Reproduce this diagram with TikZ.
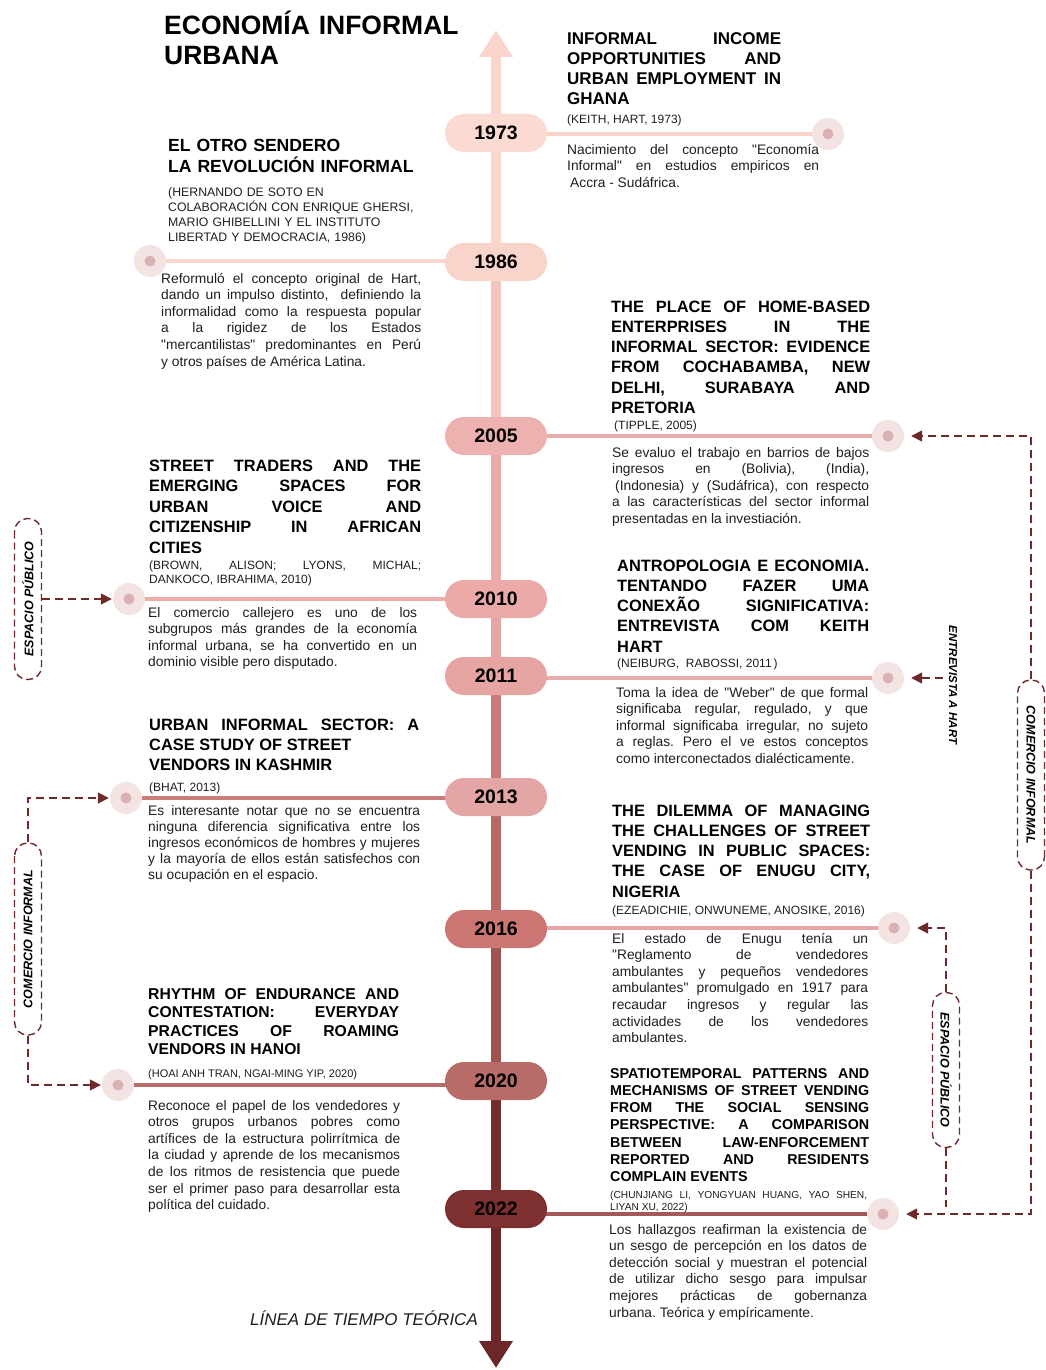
\documentclass[tikz,border=0pt]{standalone}
\usepackage{fontspec}
\setmainfont{Liberation Sans}
\usetikzlibrary{arrows.meta,backgrounds}

\hyphenpenalty=10000
\exhyphenpenalty=10000
\tolerance=10000
\frenchspacing

% colours of the pills, of the spine and of the connectors
\definecolor{yr73}{HTML}{FBDAD1}
\definecolor{yr86}{HTML}{F9D4CA}
\definecolor{yr05}{HTML}{EDB1AF}
\definecolor{yr10}{HTML}{EBAAA8}
\definecolor{yr11}{HTML}{E6A4A3}
\definecolor{yr13}{HTML}{E4A6A4}
\definecolor{yr16}{HTML}{CB7673}
\definecolor{yr20}{HTML}{B76C68}
\definecolor{yr22}{HTML}{7E3030}
\definecolor{spA}{HTML}{F9D5CC}
\definecolor{spB}{HTML}{F3C4BE}
\definecolor{spC}{HTML}{E9ABAA}
\definecolor{spD}{HTML}{E6A6A5}
\definecolor{spE}{HTML}{C97C79}
\definecolor{spF}{HTML}{B66965}
\definecolor{spG}{HTML}{9D5350}
\definecolor{spH}{HTML}{722D2D}
\definecolor{spI}{HTML}{6C2828}
\definecolor{ln73}{HTML}{F9D3CA}
\definecolor{ln86}{HTML}{FAD7CE}
\definecolor{ln05}{HTML}{E8ABAB}
\definecolor{ln10}{HTML}{EDACAA}
\definecolor{ln11}{HTML}{E8ABAB}
\definecolor{ln13}{HTML}{CD7D79}
\definecolor{ln16}{HTML}{E9A6A5}
\definecolor{ln20}{HTML}{B96C69}
\definecolor{ln22}{HTML}{A45858}
\definecolor{maroon}{HTML}{6E2A2A}
\definecolor{dotout}{HTML}{F4E3E3}
\definecolor{dotin}{HTML}{D9B1B2}
\definecolor{ink}{HTML}{1E1E1E}

\tikzset{
    year/.style={
           rectangle,
           rounded corners=19pt,
           minimum width=102pt,
           minimum height=38pt,
           inner sep=2pt,
           text centered,
           font=\bfseries\fontsize{19.5}{22}\selectfont,
           text=black,
           },
    spine/.style={line width=10pt},
    conn/.style={line width=4pt},
    dot/.style={
           circle,
           fill=dotout,
           minimum size=32pt,
           inner sep=0pt,
           path picture={\fill[dotin] (path picture bounding box.center) circle (5.5pt);},
           },
    txt/.style={anchor=base west, inner sep=0pt, align=justify, text=ink},
    head/.style={txt, text=black, font=\bfseries\fontsize{16.4}{20.3}\selectfont},
    cite/.style={txt, font=\fontsize{12}{14.5}\selectfont},
    body/.style={txt, font=\fontsize{13.8}{16.6}\selectfont},
    tag/.style={
           draw=maroon,
           line width=1.4pt,
           dash pattern=on 7pt off 4pt,
           rounded corners=13pt,
           minimum height=27pt,
           inner sep=0pt,
           text=black,
           font=\bfseries\itshape\fontsize{12.5}{14}\selectfont,
           },
    link/.style={
           draw=maroon,
           line width=1.6pt,
           dash pattern=on 8pt off 5pt,
           -{Triangle[length=11pt,width=11pt]},
           shorten >=7pt,
           },
}

\begin{document}
\begin{tikzpicture}[x=1pt,y=-1pt]
    \useasboundingbox (0,0) rectangle (1046,1370);

    % title
    \node[anchor=base west, inner sep=0pt, align=left, text width=320pt,
    font=\bfseries\fontsize{26.5}{30}\selectfont] (title) at (164,35)
    {ECONOMÍA INFORMAL\\URBANA};

    % ends of the time line
    \coordinate (tiptop) at (496,30);
    \coordinate (tipbot) at (496,1368);

    % years on the time line (layout defined above)
    \node[year, fill=yr73] (y1973) at (496,133) {1973};
    \node[year, fill=yr86] (y1986) at (496,262) {1986};
    \node[year, fill=yr05] (y2005) at (496,436) {2005};
    \node[year, fill=yr10] (y2010) at (496,599) {2010};
    \node[year, fill=yr11] (y2011) at (496,676) {2011};
    \node[year, fill=yr13] (y2013) at (496,797) {2013};
    \node[year, fill=yr16] (y2016) at (496,929) {2016};
    \node[year, fill=yr20] (y2020) at (496,1081) {2020};
    \node[year, fill=yr22] (y2022) at (496,1209) {2022};

    % dots at the free end of each connector
    \node[dot] (d1973) at (828,134) {};
    \node[dot] (d1986) at (150,261) {};
    \node[dot] (d2005) at (888,436) {};
    \node[dot] (d2010) at (129,599) {};
    \node[dot] (d2011) at (888,678) {};
    \node[dot] (d2013) at (126,798) {};
    \node[dot] (d2016) at (894,928) {};
    \node[dot] (d2020) at (118,1085) {};
    \node[dot] (d2022) at (883,1214) {};

    % spine and connectors behind the pills
    \begin{pgfonlayer}{background}
        \draw[spine, spA, -{Triangle[width=32pt,length=27pt]}] (y1973) -- (tiptop);
        \draw[spine, spA] (y1973) -- (y1986);
        \draw[spine, spB] (y1986) -- (y2005);
        \draw[spine, spC] (y2005) -- (y2010);
        \draw[spine, spD] (y2010) -- (y2011);
        \draw[spine, spE] (y2011) -- (y2013);
        \draw[spine, spF] (y2013) -- (y2016);
        \draw[spine, spG] (y2016) -- (y2020);
        \draw[spine, spH] (y2020) -- (y2022);
        \draw[spine, spI, -{Triangle[width=32pt,length=27pt]}] (y2022) -- (tipbot);

        \draw[conn, ln73] (y1973 |- d1973) -- (d1973);
        \draw[conn, ln86] (y1986 |- d1986) -- (d1986);
        \draw[conn, ln05] (y2005 |- d2005) -- (d2005);
        \draw[conn, ln10] (y2010 |- d2010) -- (d2010);
        \draw[conn, ln11] (y2011 |- d2011) -- (d2011);
        \draw[conn, ln13] (y2013 |- d2013) -- (d2013);
        \draw[conn, ln16] (y2016 |- d2016) -- (d2016);
        \draw[conn, ln20] (y2020 |- d2020) -- (d2020);
        \draw[conn, ln22] (y2022 |- d2022) -- (d2022);
    \end{pgfonlayer}

    % 1973
    \node[head, text width=214pt, font=\bfseries\fontsize{17}{20}\selectfont] (t1973) at (567,45)
    {INFORMAL INCOME\linebreak OPPORTUNITIES AND\linebreak URBAN EMPLOYMENT IN\linebreak GHANA};
    \node[cite] (c1973) at (567,124) {(KEITH, HART, 1973)};
    \node[body, text width=252pt] (b1973) at (567,154)
    {Nacimiento del concepto \textquotedbl Economía\linebreak Informal\textquotedbl{} en estudios empiricos en\linebreak\hspace*{3pt}Accra - Sudáfrica.};

    % 1986
    \node[head, align=left, text width=270pt, font=\bfseries\fontsize{17.6}{21}\selectfont] (t1986) at (168,151)
    {EL OTRO SENDERO\\LA REVOLUCIÓN INFORMAL};
    \node[cite, align=left, text width=270pt, font=\fontsize{12.3}{15}\selectfont] (c1986) at (168,196)
    {(HERNANDO DE SOTO EN\\COLABORACIÓN CON ENRIQUE GHERSI,\\MARIO GHIBELLINI Y EL INSTITUTO\\LIBERTAD Y DEMOCRACIA, 1986)};
    \node[body, text width=260pt] (b1986) at (161,283)
    {Reformuló el concepto original de Hart,\linebreak dando un impulso distinto,\ \ definiendo la\linebreak informalidad como la respuesta popular\linebreak a la rigidez de los Estados\linebreak \textquotedbl mercantilistas\textquotedbl{} predominantes en Perú\linebreak y otros países de América Latina.};

    % 2005
    \node[head, text width=259pt] (t2005) at (611,312)
    {THE PLACE OF HOME-BASED\linebreak ENTERPRISES IN THE\linebreak INFORMAL SECTOR: EVIDENCE\linebreak FROM COCHABAMBA, NEW\linebreak DELHI, SURABAYA AND\linebreak PRETORIA};
    \node[cite] (c2005) at (614,429) {(TIPPLE, 2005)};
    \node[body, text width=257pt] (b2005) at (612,457)
    {Se evaluo el trabajo en barrios de bajos\linebreak ingresos en (Bolivia), (India),\linebreak\hspace*{3pt}(Indonesia) y (Sudáfrica), con respecto\linebreak a las características del sector informal\linebreak presentadas en la investiación.};

    % 2010
    \node[head, text width=272pt, font=\bfseries\fontsize{16.4}{20.5}\selectfont] (t2010) at (149,471)
    {STREET TRADERS AND THE\linebreak EMERGING SPACES FOR\linebreak URBAN VOICE AND\linebreak CITIZENSHIP IN AFRICAN\linebreak CITIES};
    \node[cite, text width=272pt] (c2010) at (149,569)
    {(BROWN, ALISON; LYONS, MICHAL;\linebreak DANKOCO, IBRAHIMA, 2010)};
    \node[body, text width=269pt] (b2010) at (148,617)
    {El comercio callejero es uno de los\linebreak subgrupos más grandes de la economía\linebreak informal urbana, se ha convertido en un\linebreak dominio visible pero disputado.};

    % 2011
    \node[head, text width=252pt] (t2011) at (617,571)
    {ANTROPOLOGIA E ECONOMIA.\linebreak TENTANDO FAZER UMA\linebreak CONEXÃO SIGNIFICATIVA:\linebreak ENTREVISTA COM KEITH\linebreak HART};
    \node[cite] (c2011) at (617,667) {(NEIBURG,\ \ RABOSSI, 2011\,)};
    \node[body, text width=252pt] (b2011) at (616,697)
    {Toma la idea de \textquotedbl Weber\textquotedbl{} de que formal\linebreak significaba regular, regulado, y que\linebreak informal significaba irregular, no sujeto\linebreak a reglas. Pero el ve estos conceptos\linebreak como interconectados dialécticamente.};

    % 2013
    \node[head, text width=270pt] (t2013) at (149,730)
    {URBAN INFORMAL SECTOR: A\linebreak CASE STUDY OF STREET\\VENDORS IN KASHMIR};
    \node[cite] (c2013) at (149,791) {(BHAT, 2013)};
    \node[body, text width=272pt, font=\fontsize{13.8}{16}\selectfont] (b2013) at (148,815)
    {Es interesante notar que no se encuentra\linebreak ninguna diferencia significativa entre los\linebreak ingresos económicos de hombres y mujeres\linebreak y la mayoría de ellos están satisfechos con\linebreak su ocupación en el espacio.};

    % 2016
    \node[head, text width=258pt] (t2016) at (612,816)
    {THE DILEMMA OF MANAGING\linebreak THE CHALLENGES OF STREET\linebreak VENDING IN PUBLIC SPACES:\linebreak THE CASE OF ENUGU CITY,\linebreak NIGERIA};
    \node[cite] (c2016) at (612,914) {(EZEADICHIE, ONWUNEME, ANOSIKE, 2016)};
    \node[body, text width=256pt] (b2016) at (612,943)
    {El estado de Enugu tenía un\linebreak \textquotedbl Reglamento de vendedores\linebreak ambulantes y pequeños vendedores\linebreak ambulantes\textquotedbl{} promulgado en 1917 para\linebreak recaudar ingresos y regular las\linebreak actividades de los vendedores\linebreak ambulantes.};

    % 2020
    \node[head, text width=251pt, font=\bfseries\fontsize{15.7}{18.5}\selectfont] (t2020) at (148,999)
    {RHYTHM OF ENDURANCE AND\linebreak CONTESTATION: EVERYDAY\linebreak PRACTICES OF ROAMING\linebreak VENDORS IN HANOI};
    \node[cite, font=\fontsize{11}{13}\selectfont] (c2020) at (148,1077) {(HOAI ANH TRAN, NGAI-MING YIP, 2020)};
    \node[body, text width=252pt] (b2020) at (148,1110)
    {Reconoce el papel de los vendedores y\linebreak otros grupos urbanos pobres como\linebreak artífices de la estructura polirrítmica de\linebreak la ciudad y aprende de los mecanismos\linebreak de los ritmos de resistencia que puede\linebreak ser el primer paso para desarrollar esta\linebreak política del cuidado.};

    % 2022
    \node[head, text width=259pt, font=\bfseries\fontsize{14.3}{17.3}\selectfont] (t2022) at (610,1078)
    {SPATIOTEMPORAL PATTERNS AND\linebreak MECHANISMS OF STREET VENDING\linebreak FROM THE SOCIAL SENSING\linebreak PERSPECTIVE: A COMPARISON\linebreak BETWEEN LAW-ENFORCEMENT\linebreak REPORTED AND RESIDENTS\linebreak COMPLAIN EVENTS};
    \node[cite, text width=257pt, font=\fontsize{10.2}{12}\selectfont] (c2022) at (610,1198)
    {(CHUNJIANG LI, YONGYUAN HUANG, YAO SHEN,\linebreak LIYAN XU, 2022)};
    \node[body, text width=258pt] (b2022) at (609,1234)
    {Los hallazgos reafirman la existencia de\linebreak un sesgo de percepción en los datos de\linebreak detección social y muestran el potencial\linebreak de utilizar dicho sesgo para impulsar\linebreak mejores prácticas de gobernanza\linebreak urbana. Teórica y empíricamente.};

    % caption of the time line
    \node[anchor=base west, inner sep=0pt, text=ink,
    font=\itshape\fontsize{17}{20}\selectfont] (caption) at (250,1325)
    {LÍNEA DE TIEMPO TEÓRICA};

    % themes on both sides
    \node[tag, rotate=90, minimum width=161pt] (esp1) at (28,599) {ESPACIO PÚBLICO};
    \node[tag, rotate=90, minimum width=192pt] (com1) at (28,939) {COMERCIO INFORMAL};
    \node[tag, rotate=-90, minimum width=190pt] (com2) at (1031,775) {COMERCIO INFORMAL};
    \node[tag, rotate=-90, minimum width=155pt] (esp2) at (946,1070) {ESPACIO PÚBLICO};
    \node[rotate=-90, inner sep=0pt, text=black,
    font=\bfseries\itshape\fontsize{11.5}{13}\selectfont] (hart) at (953,685)
    {ENTREVISTA A HART};

    % dashed links from the themes to the dots
    \draw[link, shorten >=1pt] (esp1.south) -- (d2010.west);
    \draw[link, shorten >=1pt] (com1.east) |- (d2013.west);
    \draw[link, shorten >=1pt] (com1.west) |- (d2020.west);
    \draw[link] (com2.west) |- (d2005.east);
    \draw[link] (com2.east) |- (d2022.east);
    \draw[link] (esp2.west) |- (d2016.east);
    \draw[link, -] (esp2.east) -- (esp2.east |- d2022.east);
    \draw[link, shorten <=6pt] (hart.south |- d2011.east) -- (d2011.east);
\end{tikzpicture}
\end{document}
